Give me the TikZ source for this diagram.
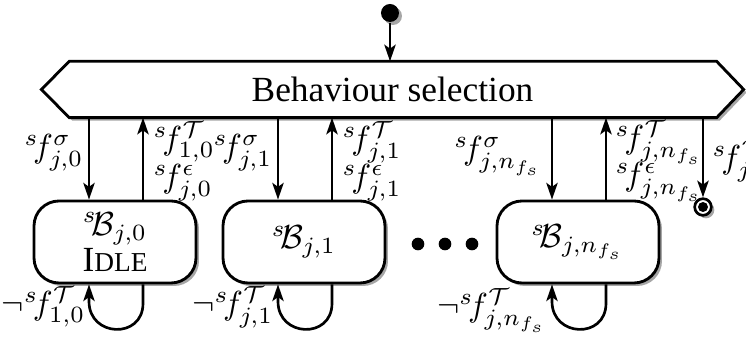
\documentclass[tikz,border=0pt]{standalone}
\usepackage[no-math]{fontspec}
\setmainfont{Liberation Serif}
\usetikzlibrary{arrows.meta,shadows,calc}
\newcommand{\sF}{{}^{s}\mkern-3mu f}
\begin{document}
\begin{tikzpicture}[x=0.3pt,y=-0.3pt,
  shd/.style={drop shadow={shadow xshift=0.9pt,shadow yshift=-0.9pt,fill=black!35,opacity=1}},
  arr/.style={-{Stealth[length=5pt,width=3.4pt,inset=1.2pt]},line width=0.8pt},
  box/.style={draw,line width=0.85pt,fill=white,rounded corners=7.5pt,minimum width=48.6pt,minimum height=24.6pt,align=center,inner sep=1pt,shd},
  lbl/.style={inner sep=0pt,font=\fontsize{10}{12}\selectfont},
  dotn/.style={circle,fill=black,inner sep=0pt,minimum size=3.8pt},
  ]
\useasboundingbox (0,0) rectangle (746,338);

% banner
\node[minimum width=210.3pt,minimum height=16.5pt,inner sep=0pt] (sel) at (392.5,89.5) {};
\draw[line width=0.85pt,fill=white,shd] (sel.west) -- ($(sel.north west)+(28,0)$) -- ($(sel.north east)+(-27,0)$) -- (sel.east) -- ($(sel.south east)+(-27,0)$) -- ($(sel.south west)+(28,0)$) -- cycle;
\node[font=\fontsize{10.6}{12}\selectfont] (seltext) at (sel.center) {Behaviour selection};

% initial
\node[circle,fill=black,inner sep=0pt,minimum size=5.4pt,shd] (init) at (390,13) {};
\draw[arr] (init) -- (init |- sel.north);

% boxes
\node[box] (b1) at (115,242) {${}^{s}\!\mathcal{B}_{j,0}$\\[-1pt]{\fontsize{10.6}{12}\selectfont I{\fontsize{8.2}{10}\selectfont DLE}}};
\node[box] (b2) at (304,242) {${}^{s}\!\mathcal{B}_{j,1}$};
\node[box] (b3) at (578,242) {${}^{s}\!\mathcal{B}_{j,n_{f_s}}$};

% dots
\node[dotn] (dt1) at (418,244) {};
\node[dotn] (dt2) at (445,244) {};
\node[dotn] (dt3) at (472,244) {};

% final
\node[circle,draw,line width=0.8pt,fill=white,inner sep=0pt,minimum size=5pt,shd] (fin) at (703,207) {};
\node[circle,fill=black,inner sep=0pt,minimum size=3pt] (finin) at (fin.center) {};
\draw[arr] (fin |- sel.south) -- (fin.north);

% arrows between banner and boxes
\foreach \b in {b1,b2,b3}{
  \draw[arr] ([xshift=-7.8pt]\b.north |- sel.south) -- ([xshift=-7.8pt]\b.north);
  \draw[arr] ([xshift=8.4pt]\b.north) -- ([xshift=8.4pt]\b.north |- sel.south);
  \draw[arr] ([xshift=8.4pt]\b.south) -- ++(0,19) .. controls +(0,36) and +(0,36) .. ([xshift=-7.8pt,yshift=-5.1pt]\b.south) -- ([xshift=-7.8pt]\b.south);
}

% labels
\node[lbl,anchor=north east] (l1a) at (84,134) {$\sF^{\sigma}_{j,0}$};
\node[lbl,anchor=north west] (l1b) at (153,121) {$\sF^{\mathcal{T}}_{1,0}$};
\node[lbl,anchor=north west] (l1c) at (153,164) {$\sF^{\epsilon}_{j,0}$};
\node[lbl,anchor=north east] (l2a) at (273,134) {$\sF^{\sigma}_{j,1}$};
\node[lbl,anchor=north west] (l2b) at (342,121) {$\sF^{\mathcal{T}}_{j,1}$};
\node[lbl,anchor=north west] (l2c) at (342,164) {$\sF^{\epsilon}_{j,1}$};
\node[lbl,anchor=north east] (l3a) at (543,136) {$\sF^{\sigma}_{j,n_{f_s}}$};
\node[lbl,anchor=north west] (l3b) at (615,120) {$\sF^{\mathcal{T}}_{j,n_{f_s}}$};
\node[lbl,anchor=north west] (l3c) at (615,162) {$\sF^{\epsilon}_{j,n_{f_s}}$};
\node[lbl,anchor=north west] (lf) at (712,140) {$\sF^{\mathcal{T}}_{j}$};
\node[lbl,anchor=north east] (n1) at (86,286) {$\neg\sF^{\mathcal{T}}_{1,0}$};
\node[lbl,anchor=north east] (n2) at (274,286) {$\neg\sF^{\mathcal{T}}_{j,1}$};
\node[lbl,anchor=north east] (n3) at (548,288) {$\neg\sF^{\mathcal{T}}_{j,n_{f_s}}$};
\end{tikzpicture}
\end{document}
